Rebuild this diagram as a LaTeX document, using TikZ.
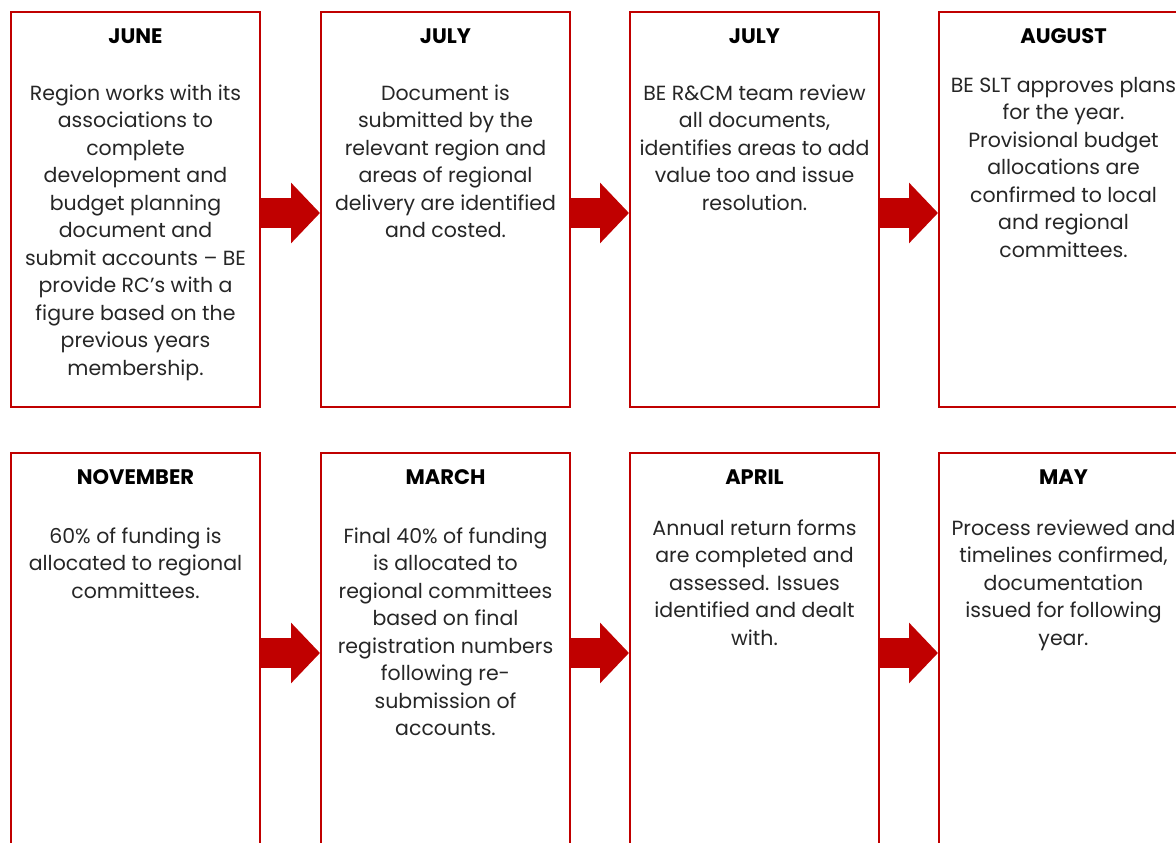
\documentclass[tikz,border=0pt]{standalone}
\usepackage{fontspec}
\setmainfont{Poppins}
\usepackage{tikz}
\usetikzlibrary{arrows.meta}
\definecolor{bered}{HTML}{C00000}
\definecolor{betext}{HTML}{262626}
\tikzset{
    box/.style={rectangle, draw=bered, line width=2pt, minimum width=249pt,
    	inner sep=0pt}
}
\tikzset{
    month/.style={anchor=base, inner sep=0pt, font=\fontsize{21}{27.5}\selectfont\bfseries},
    body/.style={anchor=base, inner sep=0pt, align=center, text=betext,
    	font=\fontsize{20.5}{27.5}\selectfont}
}
\tikzset{
	flow/.style={draw=bered, line width=30pt, -{Triangle[width=59pt,length=29pt]}}
}

\begin{document}
\begin{tikzpicture}[x=1pt,y=-1pt]
	\useasboundingbox (0,0) rectangle (1176,843);
	\clip (0,0) rectangle (1176,843);
	\node (jun) [box, minimum height=395pt] at (135.5,209.5) {};
	\node (jul) [box, minimum height=395pt] at (445.5,209.5) {};
	\node (julb) [box, minimum height=395pt] at (754.5,209.5) {};
	\node (aug) [box, minimum height=395pt] at (1063.5,209.5) {};
	\node (nov) [box, minimum height=430pt] at (135.5,668) {};
	\node (mar) [box, minimum height=430pt] at (445.5,668) {};
	\node (apr) [box, minimum height=430pt] at (754.5,668) {};
	\node (may) [box, minimum height=430pt] at (1063.5,668) {};

	\node (junm) [month] at (135.5,44) {JUNE};
	\node (julm) [month] at (445.5,44) {JULY};
	\node (julbm) [month] at (754.5,44) {JULY};
	\node (augm) [month] at (1063.5,44) {AUGUST};
	\node (novm) [month] at (135.5,484) {NOVEMBER};
	\node (marm) [month] at (445.5,484) {MARCH};
	\node (aprm) [month] at (754.5,484) {APRIL};
	\node (maym) [month] at (1063.5,484) {MAY};

	\node (junt) [body] at (135.5,375) {Region works with its\\associations to\\complete\\development and\\budget planning\\document and\\submit accounts – BE\\provide RC’s with a\\figure based on the\\previous years\\membership.};
	\node (jult) [body] at (445.5,237.5) {Document is\\submitted by the\\relevant region and\\areas of regional\\delivery are identified\\and costed.};
	\node (julbt) [body] at (754.5,210) {BE R\&CM team review\\all documents,\\identifies areas to add\\value too and issue\\resolution.};
	\node (augt) [body] at (1063.5,257) {BE SLT approves plans\\for the year.\\Provisional budget\\allocations are\\confirmed to local\\and regional\\committees.};
	\node (novt) [body] at (135.5,598) {60\% of funding is\\allocated to regional\\committees.};
	\node (mart) [body] at (445.5,735.5) {Final 40\% of funding\\is allocated to\\regional committees\\based on final\\registration numbers\\following re-\\submission of\\accounts.};
	\node (aprt) [body] at (754.5,645) {Annual return forms\\are completed and\\assessed. Issues\\identified and dealt\\with.};
	\node (mayt) [body] at (1063.5,645) {Process reviewed and\\timelines confirmed,\\documentation\\issued for following\\year.};

	\draw [flow] ([yshift=-3.5pt]jun.east) -- ([yshift=-3.5pt]jul.west);
	\draw [flow] ([yshift=-3.5pt]jul.east) -- ([yshift=-3.5pt]julb.west);
	\draw [flow] ([yshift=-3.5pt]julb.east) -- ([yshift=-3.5pt]aug.west);
	\draw [flow] ([yshift=15pt]nov.east) -- ([yshift=15pt]mar.west);
	\draw [flow] ([yshift=15pt]mar.east) -- ([yshift=15pt]apr.west);
	\draw [flow] ([yshift=15pt]apr.east) -- ([yshift=15pt]may.west);
\end{tikzpicture}
\end{document}
